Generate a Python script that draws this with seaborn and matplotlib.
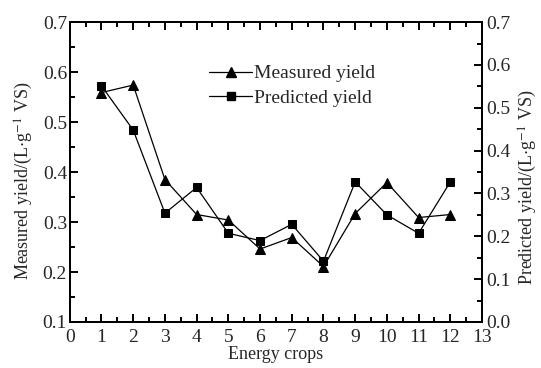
import numpy as np
import pandas as pd
import matplotlib
matplotlib.use('Agg')
import matplotlib.pyplot as plt
from matplotlib.ticker import MultipleLocator
from matplotlib.lines import Line2D
import seaborn as sns

# values
crops = [1, 2, 3, 4, 5, 6, 7, 8, 9, 10, 11, 12]
measured = [0.559, 0.574, 0.385, 0.315, 0.304, 0.246, 0.269, 0.211, 0.317, 0.379, 0.309, 0.315]
predicted = [0.551, 0.448, 0.254, 0.314, 0.207, 0.190, 0.228, 0.142, 0.327, 0.250, 0.207, 0.327]

sns.set_style('ticks', {'xtick.direction': 'in', 'ytick.direction': 'in'})
plt.rcParams['font.family'] = ['Liberation Serif', 'DejaVu Serif']
plt.rcParams['mathtext.fontset'] = 'stix'

df = pd.DataFrame({'crop': crops, 'measured': measured, 'predicted': predicted})

fig, ax = plt.subplots(figsize=(5.41, 3.68), dpi=100)
fig.subplots_adjust(left=0.129, right=0.891, top=0.940, bottom=0.125)
ax2 = ax.twinx()

sns.lineplot(data=df, x='crop', y='measured', ax=ax, color='black', marker='^',
             markersize=6.5, markeredgecolor='black', linewidth=0.9)
sns.lineplot(data=df, x='crop', y='predicted', ax=ax2, color='black', marker='s',
             markersize=6, markeredgecolor='black', linewidth=0.9)

fs = 14
ax.set_xlim(0, 13)
ax.set_ylim(0.1, 0.7)
ax2.set_ylim(0.0, 0.7)
ax.xaxis.set_major_locator(MultipleLocator(1))
ax.xaxis.set_minor_locator(MultipleLocator(0.5))
ax.yaxis.set_major_locator(MultipleLocator(0.1))
ax.yaxis.set_minor_locator(MultipleLocator(0.05))
ax2.yaxis.set_major_locator(MultipleLocator(0.1))
ax2.yaxis.set_minor_locator(MultipleLocator(0.05))
ax.yaxis.set_major_formatter(plt.FuncFormatter(lambda v, p: f'{v:.1f}'))
ax2.yaxis.set_major_formatter(plt.FuncFormatter(lambda v, p: f'{v:.1f}'))

ax.tick_params(axis='x', which='both', top=True, bottom=True, direction='in', labelsize=fs, pad=5)
ax.tick_params(axis='y', which='both', left=True, right=False, direction='in', labelsize=fs, pad=2)
ax2.tick_params(axis='y', which='both', right=True, left=False, direction='in', labelsize=fs, pad=3)
for a in (ax, ax2):
    a.tick_params(which='major', length=6, width=1.4, color='black')
    a.tick_params(which='minor', length=3.5, width=1.4, color='black')
    for s in a.spines.values():
        s.set_linewidth(1.4)
        s.set_color('black')
        s.set_visible(True)

ax.set_xlabel('Energy crops', fontsize=13, labelpad=0)
ax.set_ylabel(r'Measured yield/(L$\cdot$g$^{-1}$ VS)', fontsize=13)
ax.yaxis.set_label_coords(-0.085, 0.47)
ax2.set_ylabel(r'Predicted yield/(L$\cdot$g$^{-1}$ VS)', fontsize=13)
ax2.yaxis.set_label_coords(1.085, 0.45)

handles = [
    Line2D([], [], color='black', marker='^', markersize=6.5, linewidth=0.9),
    Line2D([], [], color='black', marker='s', markersize=6, linewidth=0.9),
]
ax.legend(handles, ['Measured yield', 'Predicted yield'], loc='upper left',
          bbox_to_anchor=(0.315, 0.89), frameon=False, fontsize=fs,
          handlelength=2.2, handletextpad=0.1, labelspacing=0.35, borderpad=0)

fig.savefig('out.png', dpi=100)
